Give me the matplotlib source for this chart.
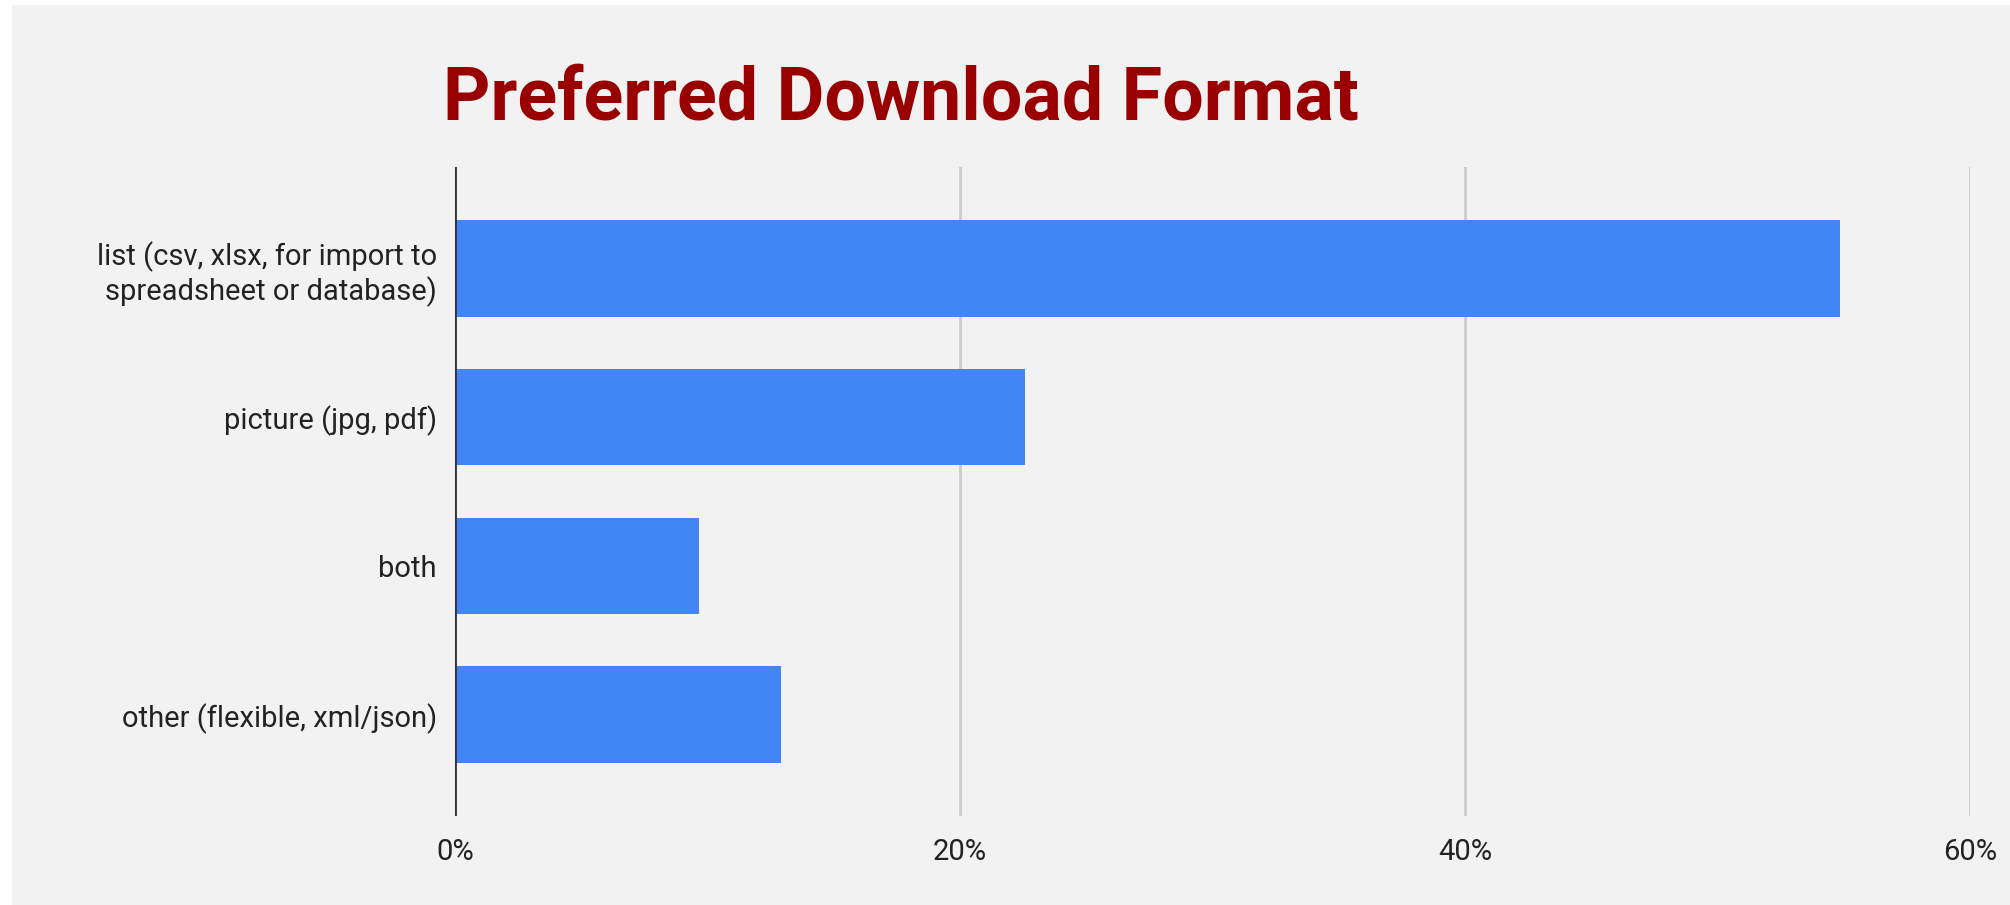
import matplotlib
matplotlib.use("Agg")
import matplotlib.pyplot as plt
from matplotlib.patches import Rectangle
from matplotlib.ticker import FuncFormatter

categories = [
    "list (csv, xlsx, for import to\nspreadsheet or database)",
    "picture (jpg, pdf)",
    "both",
    "other (flexible, xml/json)",
]
shares = [17 / 31 * 100, 7 / 31 * 100, 3 / 31 * 100, 4 / 31 * 100]
x_ticks = [0, 20, 40, 60]
title = "Preferred Download Format"

BAR_COLOR = "#4285f4"
BG = "#f2f2f2"
W, H = 2010, 905

plt.rcParams["font.family"] = ["Roboto", "DejaVu Sans"]

fig = plt.figure(figsize=(W / 100, H / 100), dpi=100, facecolor="white")
fig.patches.append(Rectangle((12 / W, 0), 1, 900 / H, transform=fig.transFigure,
                             facecolor=BG, edgecolor="none", zorder=-10))

ax = fig.add_axes([455 / W, (H - 816) / H, (1970 - 455) / W, (816 - 167) / H])
ax.set_facecolor(BG)
ax.patch.set_alpha(0)

ypos = list(range(len(categories)))
ax.barh(ypos, shares, height=0.65, color=BAR_COLOR, zorder=3)

ax.set_xlim(0, 60)
ax.set_ylim(3.68, -0.68)
ax.set_xticks(x_ticks)
ax.xaxis.set_major_formatter(FuncFormatter(lambda v, p: f"{v:.0f}%"))
ax.set_yticks(ypos)
ax.set_yticklabels(categories, linespacing=1.2)

for s in ax.spines.values():
    s.set_visible(False)
ax.tick_params(axis="both", length=0, labelsize=21, colors="#222222")
ax.tick_params(axis="x", pad=16)
ax.tick_params(axis="y", pad=13)
ax.grid(axis="x", color="#cccccc", linewidth=2, zorder=0)
ax.axvline(0, color="#333333", linewidth=2, zorder=4)

fig.text(443 / W, (H - 120) / H, title, fontsize=53, fontweight="bold",
         color="#990000", ha="left", va="baseline")

fig.savefig("out.png", dpi=100, facecolor="white")
